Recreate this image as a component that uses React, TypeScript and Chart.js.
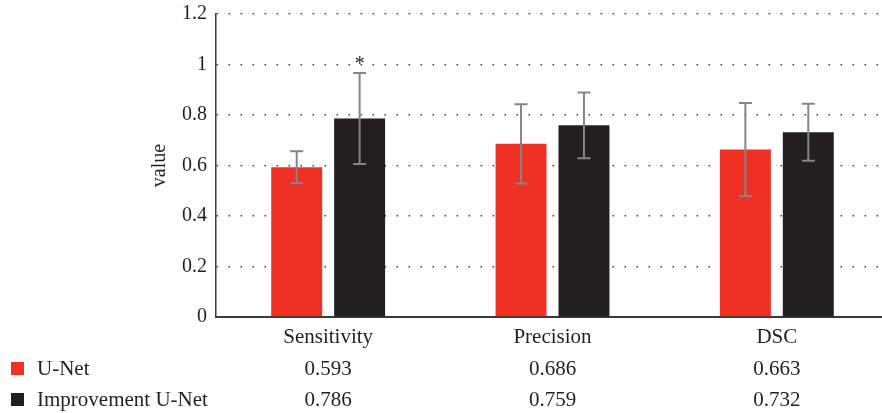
import React, { useEffect, useRef } from "react";
import { Chart, registerables } from "chart.js";

Chart.register(...registerables);

const categories = ["Sensitivity", "Precision", "DSC"];
const seriesNames = ["U-Net", "Improvement U-Net"];
const unetValues = [0.593, 0.686, 0.663];
const improvedValues = [0.786, 0.759, 0.732];
const unetErrors = [0.063, 0.157, 0.185];
const improvedErrors = [0.18, 0.13, 0.113];
const unetMarks = ["", "", ""];
const improvedMarks = ["*", "", ""];
const yAxisTitle = "value";

const RED = "#EE3124";
const DARK = "#231F20";
const TEXT = "#231F20";
const FONT = "'Liberation Serif', 'DejaVu Serif', serif";

const seriesValues = [unetValues, improvedValues];
const seriesErrors = [unetErrors, improvedErrors];
const seriesMarks = [unetMarks, improvedMarks];
const seriesColors = [RED, DARK];

const overlayPlugin = {
  id: "overlay",
  afterDatasetsDraw(chart: any) {
    const ctx = chart.ctx;
    const y = chart.scales.y;
    ctx.save();
    seriesValues.forEach((vals, di) => {
      const meta = chart.getDatasetMeta(di);
      meta.data.forEach((bar: any, i: number) => {
        const v = vals[i];
        const e = seriesErrors[di][i];
        const top = y.getPixelForValue(v + e);
        const bot = y.getPixelForValue(v - e);
        ctx.strokeStyle = "#858585";
        ctx.lineWidth = 2;
        ctx.beginPath();
        ctx.moveTo(bar.x, top);
        ctx.lineTo(bar.x, bot);
        ctx.moveTo(bar.x - 6.5, top);
        ctx.lineTo(bar.x + 6.5, top);
        ctx.moveTo(bar.x - 6.5, bot);
        ctx.lineTo(bar.x + 6.5, bot);
        ctx.stroke();
        const mark = seriesMarks[di][i];
        if (mark) {
          ctx.fillStyle = TEXT;
          ctx.font = `20px ${FONT}`;
          ctx.textAlign = "center";
          ctx.textBaseline = "alphabetic";
          ctx.fillText(mark, bar.x, top - 3);
        }
      });
    });
    ctx.restore();
  },
  afterDraw(chart: any) {
    const ctx = chart.ctx;
    const x = chart.scales.x;
    ctx.save();
    ctx.fillStyle = TEXT;
    ctx.font = `21px ${FONT}`;
    ctx.textBaseline = "alphabetic";
    ctx.textAlign = "center";
    const rows = [343, 375, 406];
    categories.forEach((c, i) => {
      const cx = x.getPixelForValue(i);
      ctx.fillText(c, cx, rows[0]);
      seriesValues.forEach((vals, di) => {
        ctx.fillText(vals[i].toFixed(3), cx, rows[di + 1]);
      });
    });
    ctx.textAlign = "left";
    seriesNames.forEach((n, di) => {
      ctx.fillStyle = seriesColors[di];
      ctx.fillRect(11, rows[di + 1] - 13, 13, 13);
      ctx.fillStyle = TEXT;
      ctx.fillText(n, 37, rows[di + 1]);
    });
    ctx.restore();
  },
};

export default function App() {
  const ref = useRef<HTMLCanvasElement | null>(null);
  useEffect(() => {
    if (!ref.current) return;
    const chart = new Chart(ref.current, {
      type: "bar",
      data: {
        labels: categories,
        datasets: seriesNames.map((n, di) => ({
          label: n,
          data: seriesValues[di],
          backgroundColor: seriesColors[di],
          borderWidth: 0,
          categoryPercentage: 0.561,
          barPercentage: 0.81,
        })),
      },
      options: {
        animation: false,
        responsive: true,
        maintainAspectRatio: false,
        layout: { padding: { left: 0, right: 11, top: 14, bottom: 0 } },
        plugins: { legend: { display: false }, tooltip: { enabled: false } },
        scales: {
          x: {
            ticks: { display: false },
            grid: { display: false, drawTicks: false },
            border: { display: true, color: "#3a3a3a", width: 2 },
            afterFit: (s: any) => {
              s.height = 413 - 317 - 0;
            },
          },
          y: {
            min: 0,
            max: 1.2,
            ticks: {
              stepSize: 0.2,
              color: TEXT,
              font: { family: FONT, size: 20 },
              padding: 9,
              callback: (v: any) => String(Number(Number(v).toFixed(1))),
            },
            grid: {
              drawTicks: false,
              color: "#444",
              lineWidth: 1.6,
            },
            border: { display: true, color: "#3a3a3a", width: 1.5, dash: [1.6, 10.4] } as any,
            title: {
              display: true,
              text: yAxisTitle,
              color: TEXT,
              font: { family: FONT, size: 20 },
              padding: { top: 148, bottom: 0 },
            },
            afterFit: (s: any) => {
              s.width = 216;
              s.paddingTop = 0;
              s.paddingBottom = 0;
            },
          },
        },
      },
      plugins: [overlayPlugin],
    });
    return () => chart.destroy();
  }, []);
  return (
    <div style={{ position: "fixed", left: 0, top: 0, width: 882, height: 413, overflow: "hidden", background: "#fff" }}>
      <div style={{ position: "relative", width: 900, height: 413 }}>
        <canvas ref={ref} />
      </div>
    </div>
  );
}
